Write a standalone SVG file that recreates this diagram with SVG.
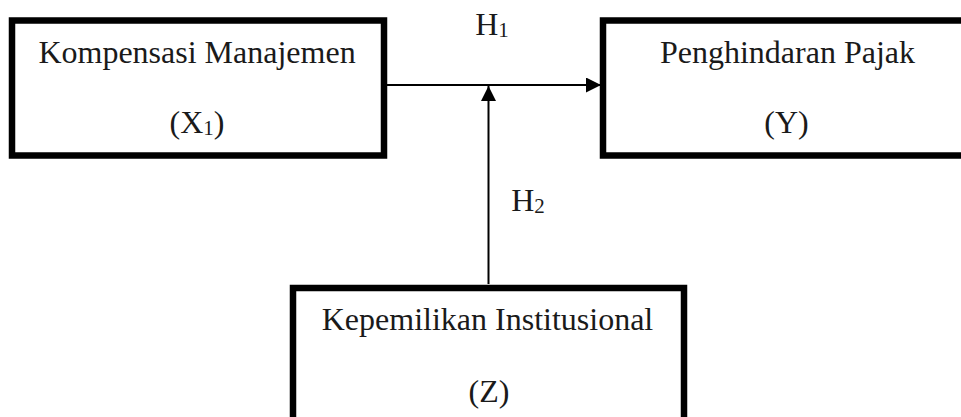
<svg xmlns="http://www.w3.org/2000/svg" width="961" height="417" viewBox="0 0 961 417">
<style>
.box{fill:#fff;stroke:#000;stroke-width:6.5}
.t{font-family:"Liberation Serif","Times New Roman",serif;font-size:32px;fill:#1a1a1a;text-anchor:middle}
.sub{font-size:21px}
.ln{stroke:#000;stroke-width:2;fill:none}
</style>
<defs>
<marker id="ah2" viewBox="0 0 10 10" refX="10" refY="5" markerWidth="15" markerHeight="15" markerUnits="userSpaceOnUse" orient="auto">
<path d="M0,0 L10,5 L0,10 z" fill="#000"/>
</marker>
</defs>
<g id="connectors">
<line class="ln" x1="386" y1="85" x2="601" y2="85" marker-end="url(#ah2)"/>
<line class="ln" x1="488.5" y1="284" x2="488.5" y2="86" marker-end="url(#ah2)"/>
</g>
<g id="node-x1">
<rect class="box" x="12" y="20.5" width="372" height="135"/>
<text class="t" x="197" y="63">Kompensasi Manajemen</text>
<text class="t" x="197" y="133">(X<tspan class="sub" dy="2">1</tspan><tspan dy="-2">)</tspan></text>
</g>
<g id="node-y">
<rect class="box" x="603" y="20.5" width="372" height="135"/>
<text class="t" x="787.5" y="63">Penghindaran Pajak</text>
<text class="t" x="786.5" y="133">(Y)</text>
</g>
<g id="node-z">
<rect class="box" x="293" y="288" width="391" height="150"/>
<text class="t" x="487.5" y="330">Kepemilikan Institusional</text>
<text class="t" x="489" y="402">(Z)</text>
</g>
<g id="labels">
<text class="t" x="492" y="35">H<tspan class="sub" dy="2">1</tspan></text>
<text class="t" x="528" y="211">H<tspan class="sub" dy="2">2</tspan></text>
</g>
</svg>
